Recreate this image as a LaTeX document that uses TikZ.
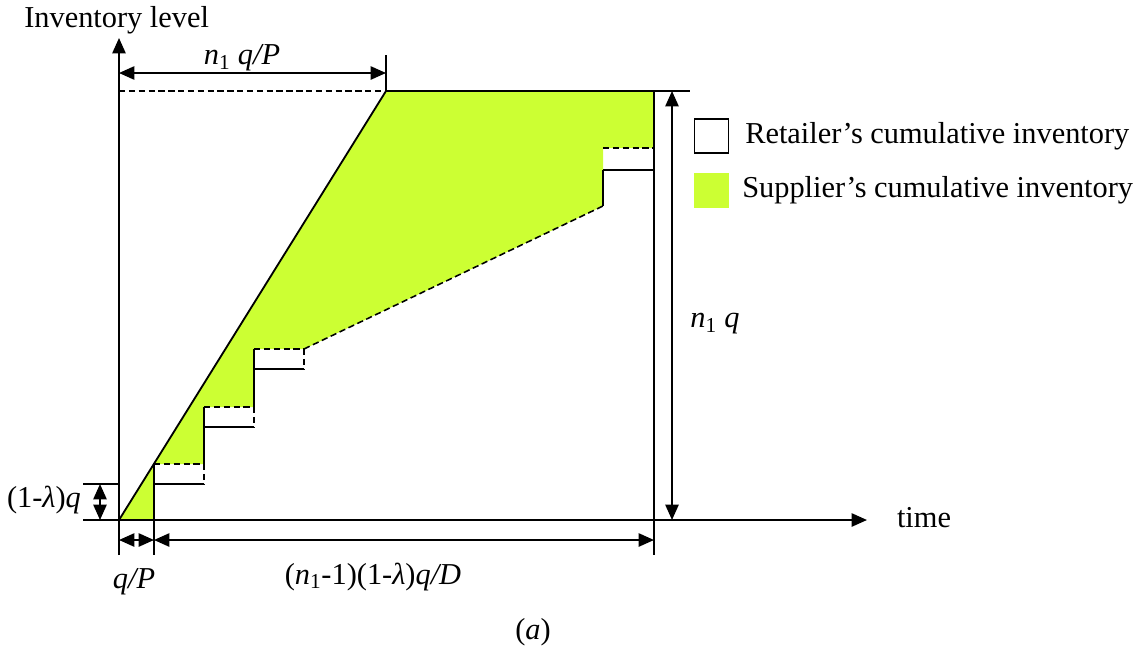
\documentclass[tikz,border=0pt]{standalone}
\usepackage{fontspec}
\setmainfont{Liberation Serif}
\usetikzlibrary{arrows.meta}
\definecolor{supgreen}{RGB}{204,255,51}

\begin{document}
\begin{tikzpicture}[x=0.025cm, y=-0.025cm, font=\fontsize{21.6}{26}\selectfont]
% Styles
\tikzstyle{none} = []
\tikzstyle{axis}=[draw=black, line width=1.3pt, -{Triangle[length=11pt,width=9.5pt]}]
\tikzstyle{dim}=[draw=black, line width=1.3pt, {Triangle[length=11pt,width=9.5pt]}-{Triangle[length=11pt,width=9.5pt]}]
\tikzstyle{solidline}=[draw=black, line width=1.3pt]
\tikzstyle{dashline}=[draw=black, line width=1.1pt, dash pattern=on 4.5pt off 2.5pt]
\tikzstyle{label}=[inner sep=0pt]

\useasboundingbox (0,0) rectangle (1140,652);

% supplier area
\fill [supgreen] (119,520) -- (386,91) -- (654,91) -- (654,148) -- (603,148) -- (603,206)
  -- (304,349) -- (254,349) -- (254,407) -- (204,407) -- (204,464) -- (154,464) -- (154,520) -- cycle;

% axes
\node [style=none] (1) at (119, 555) {};
\node [style=none] (2) at (119, 38) {};
\node [style=none] (3) at (83, 520) {};
\node [style=none] (4) at (867, 520) {};
\node [style=none] (5) at (119, 520) {};
\node [style=none] (6) at (386, 91) {};
\node [style=none] (7) at (119, 91) {};
\node [style=none] (8) at (690, 91) {};
\node [style=none] (9) at (654, 91) {};
\node [style=none] (10) at (654, 555) {};
% steps
\node [style=none] (11) at (154, 464) {};
\node [style=none] (12) at (154, 555) {};
\node [style=none] (13) at (204, 464) {};
\node [style=none] (14) at (154, 484) {};
\node [style=none] (15) at (204, 484) {};
\node [style=none] (16) at (204, 407) {};
\node [style=none] (17) at (254, 407) {};
\node [style=none] (18) at (204, 427) {};
\node [style=none] (19) at (254, 427) {};
\node [style=none] (20) at (254, 349) {};
\node [style=none] (21) at (304, 349) {};
\node [style=none] (22) at (254, 369) {};
\node [style=none] (23) at (304, 369) {};
\node [style=none] (24) at (603, 206) {};
\node [style=none] (25) at (603, 148) {};
\node [style=none] (26) at (654, 148) {};
\node [style=none] (27) at (603, 170) {};
\node [style=none] (28) at (654, 170) {};
% dimensions
\node [style=none] (29) at (119, 73) {};
\node [style=none] (30) at (386, 73) {};
\node [style=none] (31) at (386, 55) {};
\node [style=none] (32) at (672, 91) {};
\node [style=none] (33) at (672, 520) {};
\node [style=none] (34) at (119, 540) {};
\node [style=none] (35) at (154, 540) {};
\node [style=none] (36) at (654, 540) {};
\node [style=none] (37) at (100, 484) {};
\node [style=none] (38) at (100, 520) {};
\node [style=none] (39) at (83, 484) {};
\node [style=none] (40) at (119, 484) {};
% texts
\node [style=label, anchor=west] (41) at (24, 20) {Inventory level};
\node [style=label] (42) at (924, 518) {time};
\node [style=label] (43) at (242, 58) {\textit{n}\textsubscript{1} \textit{q/P}};
\node [style=label] (44) at (715, 324) {\textit{n}\textsubscript{1} \textit{q}};
\node [style=label] (45) at (44, 500) {(1-\textit{λ})\textit{q}};
\node [style=label] (46) at (134, 582) {\textit{q/P}};
\node [style=label] (47) at (373, 577) {(\textit{n}\textsubscript{1}-1)(1-\textit{λ})\textit{q/D}};
\node [style=label] (48) at (533, 632) {(\textit{a})};
% legend
\node [draw=black, line width=1pt, fill=white, inner sep=0pt,
  minimum width=0.86cm, minimum height=0.84cm] (49) at (711.5, 136) {};
\node [fill=supgreen, inner sep=0pt, minimum width=0.875cm, minimum height=0.875cm] (50) at (711.5, 190.5) {};
\node [style=label, anchor=west] (51) at (745, 136) {Retailer’s cumulative inventory};
\node [style=label, anchor=west] (52) at (742, 190) {Supplier’s cumulative inventory};

\draw [style=axis] (1.center) to (2.center);
\draw [style=axis] (3.center) to (4.center);
\draw [style=solidline] (5.center) to (6.center);
\draw [style=dashline] (7.center) to (6.center);
\draw [style=solidline] (6.center) to (8.center);
\draw [style=solidline] (9.center) to (10.center);
\draw [style=solidline] (11.center) to (12.center);
\draw [style=dashline] (11.center) to (13.center);
\draw [style=dashline] (13.center) to (15.center);
\draw [style=solidline] (14.center) to (15.center);
\draw [style=solidline] (16.center) to (13.center);
\draw [style=dashline] (16.center) to (17.center);
\draw [style=dashline] (17.center) to (19.center);
\draw [style=solidline] (18.center) to (19.center);
\draw [style=solidline] (20.center) to (17.center);
\draw [style=dashline] (20.center) to (21.center);
\draw [style=dashline] (21.center) to (23.center);
\draw [style=solidline] (22.center) to (23.center);
\draw [style=dashline] (21.center) to (24.center);
\draw [style=solidline] (27.center) to (24.center);
\draw [style=dashline] (25.center) to (26.center);
\draw [style=solidline] (27.center) to (28.center);
\draw [style=dim] (29.center) to (30.center);
\draw [style=solidline] (31.center) to (6.center);
\draw [style=dim] (32.center) to (33.center);
\draw [style=dim] (34.center) to (35.center);
\draw [style=dim] (35.center) to (36.center);
\draw [style=dim] (37.center) to (38.center);
\draw [style=solidline] (39.center) to (40.center);
\end{tikzpicture}
\end{document}
